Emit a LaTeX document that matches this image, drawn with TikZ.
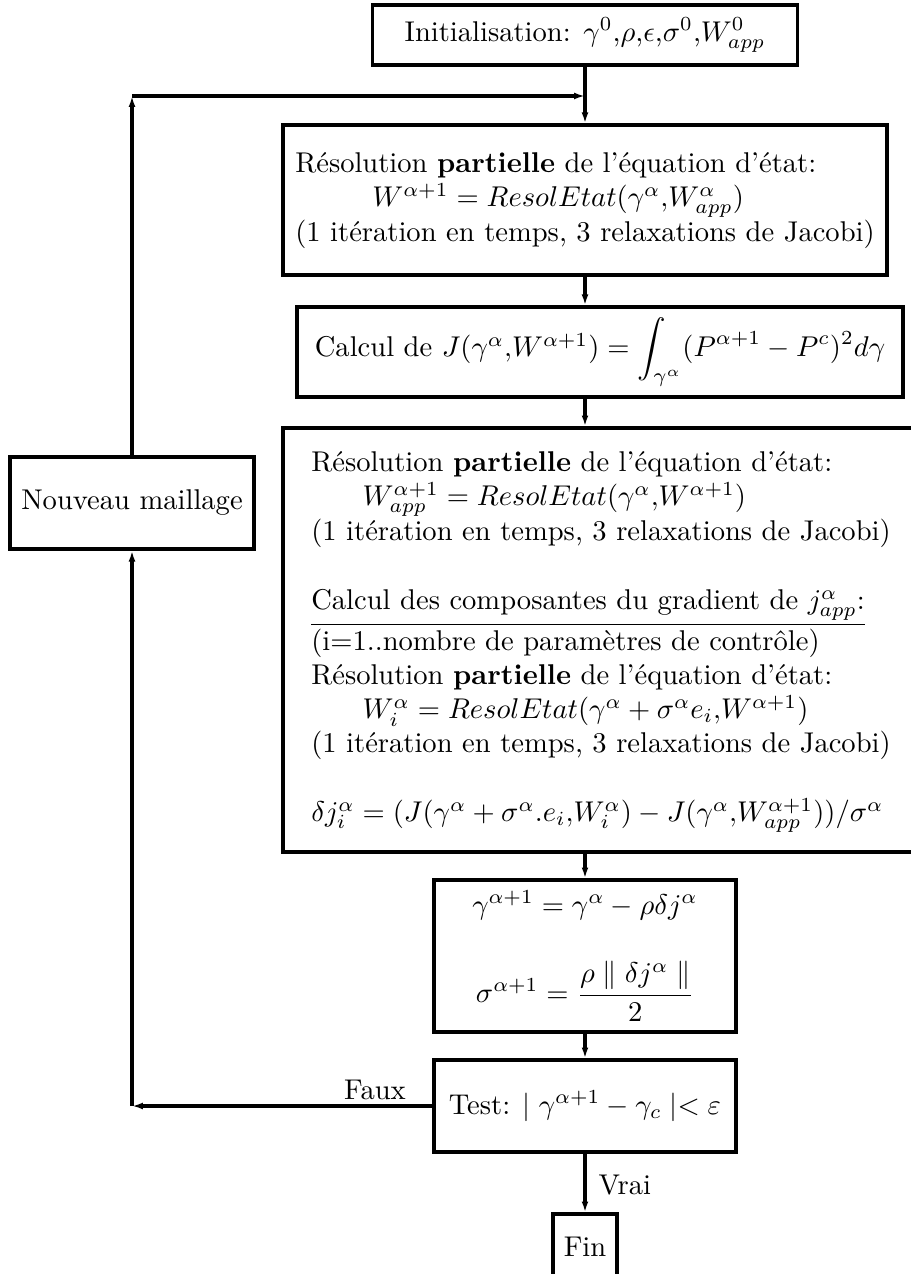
\documentclass[tikz,border=0pt]{standalone}
\usepackage{amsmath}
\usetikzlibrary{arrows.meta}
\begin{document}
\begin{tikzpicture}[x=0.35pt,y=-0.35pt,
  box/.style={draw, line width=1.15pt, inner sep=0pt, font=\fontsize{10}{12}\selectfont},
  lbl/.style={inner sep=0pt, font=\fontsize{10}{12}\selectfont},
  arr/.style={line width=1.15pt, -{Latex[length=3.8pt,width=2.4pt]}}]
\useasboundingbox (0,0) rectangle (911,1274);

\node[box, minimum width=425*0.35pt, minimum height=60*0.35pt] (init) at (585,35)
  {Initialisation: $\gamma^0$,$\rho$,$\epsilon$,$\sigma^0$,$W^0_{app}$};

\node[box, minimum width=604*0.35pt, minimum height=150*0.35pt] (b2) at (585,200)
  {\begin{tabular}{@{}l@{}}
   Résolution \textbf{partielle} de l'équation d'état:\\
   \hspace*{27pt}$W^{\alpha+1} = ResolEtat(\gamma^\alpha{,}W^\alpha_{app})$\\
   (1 itération en temps, 3 relaxations de Jacobi)
   \end{tabular}};

\node[box, minimum width=606*0.35pt, minimum height=90*0.35pt] (b3) at (600,352)
  {Calcul de $J(\gamma^\alpha{,}W^{\alpha+1}) = \displaystyle\int_{\gamma^\alpha}(P^{\alpha+1}-P^c)^2 d\gamma$};

\node[box, minimum width=636*0.35pt, minimum height=424*0.35pt] (b4) at (601,640)
  {\begin{tabular}{@{}l@{}}
   Résolution \textbf{partielle} de l'équation d'état:\\
   \hspace*{18pt}$W^{\alpha+1}_{app} = ResolEtat(\gamma^\alpha{,}W^{\alpha+1})$\\
   (1 itération en temps, 3 relaxations de Jacobi)\\
   \\
   \underline{Calcul des composantes du gradient de $j^\alpha_{app}$:}\\
   (i=1..nombre de paramètres de contrôle)\\
   Résolution \textbf{partielle} de l'équation d'état:\\
   \hspace*{18pt}$W^\alpha_i = ResolEtat(\gamma^\alpha + \sigma^\alpha e_i{,}W^{\alpha+1})$\\
   (1 itération en temps, 3 relaxations de Jacobi)\\
   \\
   $\delta j^\alpha_i = (J(\gamma^\alpha + \sigma^\alpha.e_i{,}W^\alpha_i) - J(\gamma^\alpha{,}W^{\alpha+1}_{app}))/\sigma^\alpha$
   \end{tabular}};

\node[box, minimum width=302*0.35pt, minimum height=152*0.35pt] (b5) at (585,956)
  {\begin{tabular}{@{}c@{}}
   $\gamma^{\alpha+1} = \gamma^\alpha - \rho\delta j^\alpha$\\[13pt]
   $\sigma^{\alpha+1} = \dfrac{\rho \parallel \delta j^\alpha \parallel}{2}$
   \end{tabular}};

\node[box, minimum width=302*0.35pt, minimum height=92*0.35pt] (test) at (585,1106)
  {Test: $\mid \gamma^{\alpha+1} - \gamma_c \mid< \varepsilon$};

\node[box, minimum width=244*0.35pt, minimum height=92*0.35pt] (nm) at (132,503)
  {Nouveau maillage};

\node[box, minimum width=64*0.35pt, minimum height=66*0.35pt] (fin) at (585,1247) {Fin};

\node[lbl] (faux) at (375,1090) {Faux};
\node[lbl, anchor=west] (vrai) at (598,1185) {Vrai};

\draw[arr] (init.south) -- (b2.north);
\draw[arr] (b2.south) -- (b2.south |- b3.north);
\draw[arr] (b3.south -| b2.south) -- (b4.north -| b2.south);
\draw[arr] (b4.south -| b2.south) -- (b5.north);
\draw[arr] (b5.south) -- (test.north);
\draw[arr] (test.south) -- (fin.north);
\coordinate (c2) at (nm.south |- test.west);
\draw[arr] (test.west) -- (c2);
\draw[arr] (c2) -- (nm.south);
\coordinate (c1) at (132,96);
\draw[arr] (nm.north) -- (c1);
\draw[arr] (c1) -- (init.south |- c1);
\end{tikzpicture}
\end{document}
